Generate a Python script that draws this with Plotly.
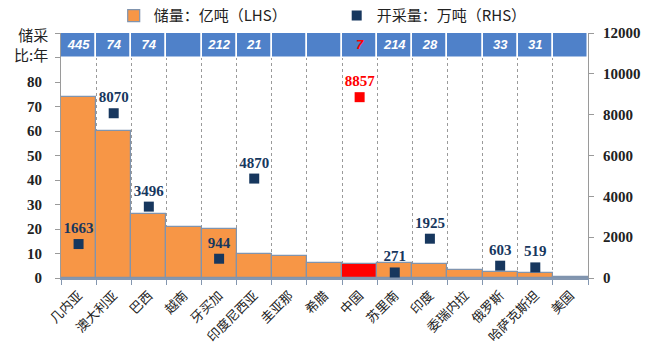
import plotly.graph_objects as go

countries = ["几内亚", "澳大利亚", "巴西", "越南", "牙买加", "印度尼西亚", "圭亚那", "希腊",
             "中国", "苏里南", "印度", "委瑞内拉", "俄罗斯", "哈萨克斯坦", "美国"]
reserves = [74, 60, 26, 21, 20, 10, 8.8, 6.1, 5.9, 6.1, 5.8, 3.4, 2.3, 1.9, 0.3]  # 亿吨
production = [1663, 8070, 3496, None, 944, 4870, None, None, 8857, 271, 1925, None, 603, 519, None]  # 万吨
rp_ratio = ["445", "74", "74", "", "212", "21", "", "", "7", "214", "28", "", "33", "31", ""]  # 储采比:年

highlight = "中国"
ORANGE = "#F79646"
RED = "#FF0000"
NAVY = "#17375E"
BAND = "#4F81C9"
SERIF = "Liberation Serif, Times New Roman, serif"
CJK = "Noto Sans CJK SC"

bar_colors = [RED if c == highlight else ORANGE for c in countries]
mk_colors = [RED if c == highlight else NAVY for c in countries]
prod_text = [f"{v}" if v is not None else "" for v in production]
band_text_colors = [RED if c == highlight else "white" for c in countries]

fig = go.Figure()

# reserves bars on the left axis
fig.add_trace(go.Bar(
    x=countries, y=reserves, width=1.0, name="储量：亿吨（LHS）",
    marker=dict(color=bar_colors, line=dict(color="#8094AE", width=1.2)),
    yaxis="y",
))

# top band with reserve-to-production ratio
fig.add_trace(go.Bar(
    x=countries, y=[10] * len(countries), base=[90] * len(countries), width=1.0,
    marker=dict(color=BAND, line=dict(color="white", width=1.5)),
    showlegend=False, hoverinfo="skip", yaxis="y",
))
fig.add_trace(go.Scatter(
    x=countries, y=[95] * len(countries), mode="text", text=rp_ratio,
    textfont=dict(family="Arial, sans-serif", size=13, color=band_text_colors,
                  style="italic", weight="bold"),
    showlegend=False, hoverinfo="skip", yaxis="y",
))

# production markers on the right axis
fig.add_trace(go.Scatter(
    x=countries, y=production, mode="markers+text", name="开采量：万吨（RHS）",
    marker=dict(symbol="square", size=10, color=mk_colors),
    text=prod_text, textposition="top center",
    textfont=dict(family=SERIF, size=15, color=mk_colors, weight="bold"),
    yaxis="y2",
))

fig.update_layout(
    width=651, height=344,
    margin=dict(l=61, r=63, t=33, b=66, autoexpand=False),
    plot_bgcolor="white", paper_bgcolor="white",
    barmode="overlay", bargap=0,
    showlegend=True,
    legend=dict(orientation="h", x=0.1, xanchor="left", y=1.07, yanchor="middle",
                font=dict(family=CJK, size=15, color="#222"),
                entrywidth=178, entrywidthmode="pixels", itemwidth=30,
                traceorder="normal", bgcolor="rgba(0,0,0,0)"),
    xaxis=dict(
        type="category", tickson="boundaries", tickangle=-45, automargin=False,
        tickfont=dict(family=CJK, size=13, color="#222"),
        showgrid=True, gridcolor="#9a9a9a", griddash="dot", gridwidth=1,
        showline=True, linecolor="#8497B0", linewidth=1.5,
        ticks="outside", ticklen=5, tickcolor="#8497B0", ticklabelstandoff=3,
        range=[-0.5, len(countries) - 0.5],
    ),
    yaxis=dict(
        range=[0, 100], tickvals=list(range(0, 101, 10)), automargin=False,
        ticktext=[str(v) for v in range(0, 81, 10)] + ["", ""],
        tickfont=dict(family=SERIF, size=15, color="#222", weight="bold"),
        showgrid=False, zeroline=False,
        showline=True, linecolor="#9a9a9a", linewidth=1,
        ticks="outside", ticklen=5, tickcolor="#9a9a9a", ticklabelstandoff=10,
    ),
    yaxis2=dict(
        overlaying="y", side="right", range=[0, 12000], automargin=False,
        tickvals=list(range(0, 12001, 2000)), tickformat="d",
        tickfont=dict(family=SERIF, size=15, color="#222", weight="bold"),
        showgrid=False, zeroline=False,
        showline=True, linecolor="#9a9a9a", linewidth=1,
        ticks="outside", ticklen=5, tickcolor="#9a9a9a", ticklabelstandoff=6,
    ),
    annotations=[dict(
        text="储采<br>比:年", xref="paper", yref="paper", x=-0.02, y=0.955,
        xanchor="right", yanchor="middle", showarrow=False, align="right",
        font=dict(family=CJK, size=15, color="#222"),
    )],
)

fig.write_html("out.html")
